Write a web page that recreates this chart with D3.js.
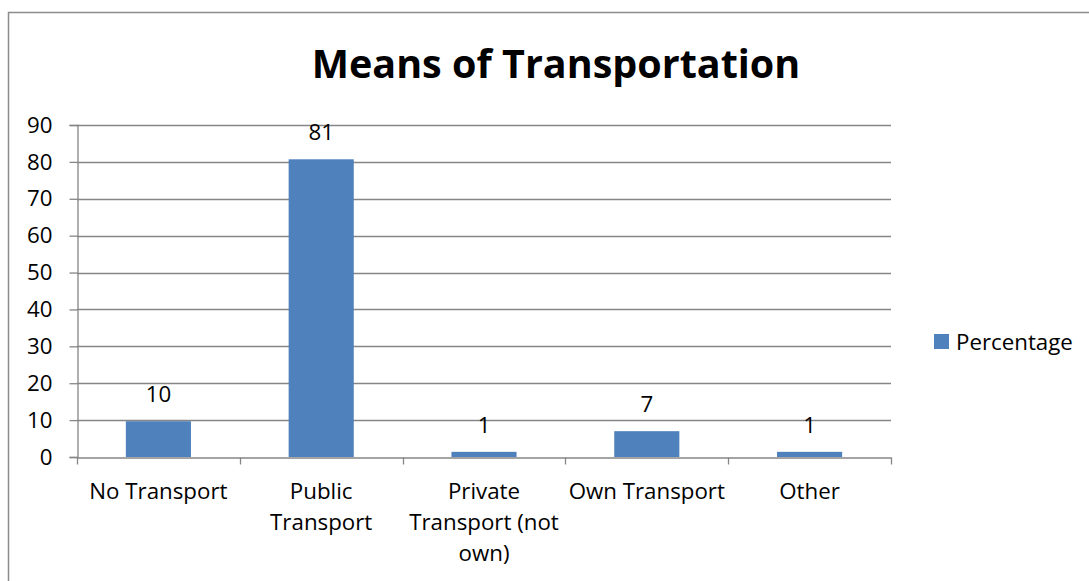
<!DOCTYPE html>
<html>
<head>
<meta charset="utf-8">
<script src="https://cdn.jsdelivr.net/npm/d3@7"></script>
<style>
  html, body { margin: 0; padding: 0; background: #fff; }
  svg { display: block; }
  text { font-family: "Open Sans", "Noto Sans", sans-serif; fill: #000; }
</style>
</head>
<body>
<svg id="chart" width="1089" height="581"></svg>
<script>
const categories = ["No Transport", "Public Transport", "Private Transport (not own)", "Own Transport", "Other"];
const categoryLines = [["No Transport"], ["Public", "Transport"], ["Private", "Transport (not", "own)"], ["Own Transport"], ["Other"]];
const percentage = [9.7, 80.7, 1.4, 7.0, 1.4];
const yTicks = [0, 10, 20, 30, 40, 50, 60, 70, 80, 90];
const seriesName = "Percentage";
const title = "Means of Transportation";

const svg = d3.select("#chart");
const W = 1089, H = 581;
const m = { left: 77, right: 891, top: 125, bottom: 457 };
const axisColor = "#868686";
const barColor = "#4f81bd";
const fs = 22.3;

// outer chart border
svg.append("rect")
  .attr("x", 8.5).attr("y", 12.5)
  .attr("width", W + 20).attr("height", H + 20)
  .attr("fill", "#fff").attr("stroke", "#8c8c8c").attr("stroke-width", 1.5);

const x = d3.scaleBand().domain(categories).range([m.left, m.right]).paddingInner(0).paddingOuter(0);
const y = d3.scaleLinear().domain([0, 90]).range([m.bottom, m.top]);

// gridlines
svg.append("g").selectAll("line").data(yTicks.filter(d => d > 0)).join("line")
  .attr("x1", m.left).attr("x2", m.right)
  .attr("y1", d => Math.round(y(d)) + 0.5).attr("y2", d => Math.round(y(d)) + 0.5)
  .attr("stroke", axisColor).attr("stroke-width", 1.3);

// y axis
const yAxis = svg.append("g")
  .attr("transform", `translate(${m.left + 0.5},0)`)
  .call(d3.axisLeft(y).tickValues(yTicks).tickSize(8).tickPadding(17).tickFormat(d3.format("d")));
yAxis.select(".domain").attr("stroke", axisColor).attr("stroke-width", 1.3);
yAxis.selectAll(".tick line").attr("stroke", axisColor).attr("stroke-width", 1.3);
yAxis.selectAll(".tick text").attr("font-size", fs).attr("font-family", "Open Sans").attr("fill", "#000");

// bars
const barW = x.bandwidth() * 0.4;
svg.append("g").selectAll("rect").data(categories).join("rect")
  .attr("x", (d, i) => x(d) + (x.bandwidth() - barW) / 2)
  .attr("y", (d, i) => y(percentage[i]))
  .attr("width", barW)
  .attr("height", (d, i) => y(0) - y(percentage[i]))
  .attr("fill", barColor);

// x axis
const xAxis = svg.append("g")
  .attr("transform", `translate(0,${m.bottom + 0.5})`)
  .call(d3.axisBottom(x).tickSize(0).tickFormat(""));
xAxis.select(".domain").attr("stroke", axisColor).attr("stroke-width", 1.3);
xAxis.selectAll(".tick").remove();
// category boundary tick marks
const bounds = [0, 1, 2, 3, 4, 5].map(i => i < 5 ? x(categories[i]) : x(categories[4]) + x.bandwidth());
xAxis.selectAll("line.tk").data(bounds).join("line").attr("class", "tk")
  .attr("x1", d => Math.round(d) + 0.5).attr("x2", d => Math.round(d) + 0.5)
  .attr("y1", 0).attr("y2", 7)
  .attr("stroke", axisColor).attr("stroke-width", 1.3);

// category labels
const catLabels = svg.append("g").selectAll("text").data(categories).join("text")
  .attr("x", d => x(d) + x.bandwidth() / 2)
  .attr("y", 499)
  .attr("text-anchor", "middle")
  .attr("font-size", fs);
catLabels.each(function(d, i) {
  d3.select(this).selectAll("tspan").data(categoryLines[i]).join("tspan")
    .attr("x", x(d) + x.bandwidth() / 2)
    .attr("dy", (t, j) => j === 0 ? 0 : 31)
    .text(t => t);
});

// value labels
svg.append("g").selectAll("text").data(categories).join("text")
  .attr("x", d => x(d) + x.bandwidth() / 2)
  .attr("y", (d, i) => y(percentage[i]) - 19)
  .attr("text-anchor", "middle")
  .attr("font-size", fs)
  .text((d, i) => d3.format(".0f")(percentage[i]));

// title
svg.append("text")
  .attr("x", 556).attr("y", 78)
  .attr("text-anchor", "middle")
  .attr("font-size", 39.5).attr("font-weight", "bold")
  .text(title);

// legend
const lg = svg.append("g").attr("transform", "translate(934,334)");
lg.append("rect").attr("width", 15).attr("height", 15).attr("fill", barColor);
lg.append("text").attr("x", 22).attr("y", 16).attr("font-size", fs).text(seriesName);
</script>
</body>
</html>
